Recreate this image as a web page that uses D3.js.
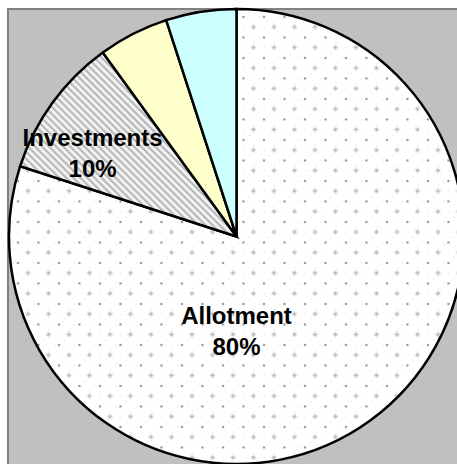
<!DOCTYPE html>
<html>
<head>
<meta charset="utf-8">
<script src="https://cdn.jsdelivr.net/npm/d3@7"></script>
<style>
  html, body { margin: 0; padding: 0; background: #ffffff; }
  svg { display: block; }
</style>
</head>
<body>
<svg id="chart" width="457" height="464"></svg>
<script>
// ---- data ----
const categories = ["Allotment", "Investments", "Other Income", "Reserves"];
const values = [80, 10, 5, 5];
const showLabel = [true, true, false, false];
const fills = ["url(#dots)", "url(#hatch)", "#FFFFCC", "#CCFFFF"];

// ---- layout ----
const W = 457, H = 464;
const cx = 236.5, cy = 236.5, R = 227.5;
// label anchors in polar form (degrees clockwise from 12 o'clock, radius)
const labelPolar = [{a: 180, r: 90}, {a: 301.6, r: 169}];

const svg = d3.select("#chart");
const defs = svg.append("defs");

// dotted pattern for Allotment
const pd = defs.append("pattern").attr("id", "dots")
  .attr("patternUnits", "userSpaceOnUse")
  .attr("width", 20.5).attr("height", 20.5);
pd.append("rect").attr("width", 20.5).attr("height", 20.5).attr("fill", "#ffffff");
// faint specks
[[1.5, 5.5], [11.8, 0.5], [6.5, 15.5], [17, 10.5]].forEach(p => {
  pd.append("rect").attr("x", p[0]).attr("y", p[1]).attr("width", 1.5).attr("height", 1.5).attr("fill", "#eeeeee");
});
// dark small dot
pd.append("rect").attr("x", 6).attr("y", 5).attr("width", 2).attr("height", 2).attr("fill", "#858585");
// light plus
pd.append("rect").attr("x", 15).attr("y", 14).attr("width", 4).attr("height", 4).attr("fill", "#e4e4e4");
pd.append("rect").attr("x", 14).attr("y", 15.5).attr("width", 6).attr("height", 1).attr("fill", "#dcdcdc");
pd.append("rect").attr("x", 16.5).attr("y", 13).attr("width", 1).attr("height", 6).attr("fill", "#dcdcdc");
pd.append("rect").attr("x", 16).attr("y", 15).attr("width", 2).attr("height", 2).attr("fill", "#aaaaaa");

// diagonal hatch for Investments
const ph = defs.append("pattern").attr("id", "hatch")
  .attr("patternUnits", "userSpaceOnUse")
  .attr("width", 5).attr("height", 5)
  .attr("patternTransform", "rotate(-45)");
ph.append("rect").attr("width", 5).attr("height", 5).attr("fill", "#f4f4f4");
ph.append("rect").attr("x", 0).attr("y", 0).attr("width", 2.2).attr("height", 5).attr("fill", "#b8b8b8");

// plot area
svg.append("rect")
  .attr("x", 8).attr("y", 9)
  .attr("width", W + 20).attr("height", H + 20)
  .attr("fill", "#C0C0C0")
  .attr("stroke", "#808080")
  .attr("stroke-width", 2);

const pie = d3.pie().sort(null).value(d => d.value);
const data = categories.map((c, i) => ({name: c, value: values[i], fill: fills[i], show: showLabel[i]}));
const arcs = pie(data);
const total = d3.sum(values);

const arc = d3.arc().innerRadius(0).outerRadius(R);
const g = svg.append("g").attr("transform", `translate(${cx},${cy})`);

g.selectAll("path.slice")
  .data(arcs)
  .join("path")
  .attr("class", "slice")
  .attr("d", arc)
  .attr("fill", d => d.data.fill)
  .attr("stroke", "#000000")
  .attr("stroke-width", 2.5)
  .attr("stroke-linejoin", "miter");

// labels
const labeled = arcs.filter(d => d.data.show);
labeled.forEach((d, i) => {
  const p = labelPolar[i];
  const ang = p.a * Math.PI / 180;
  const x = Math.sin(ang) * p.r;
  const y = -Math.cos(ang) * p.r;
  const t = g.append("text")
    .attr("x", x).attr("y", y)
    .attr("text-anchor", "middle")
    .attr("font-family", "Liberation Sans, Arial, Helvetica, sans-serif")
    .attr("font-weight", "bold")
    .attr("font-size", 24)
    .attr("fill", "#000000");
  t.append("tspan").attr("x", x).attr("dy", "-0.1em").text(d.data.name);
  t.append("tspan").attr("x", x).attr("dy", 31).text(Math.round(d.data.value / total * 100) + "%");
});
</script>
</body>
</html>
